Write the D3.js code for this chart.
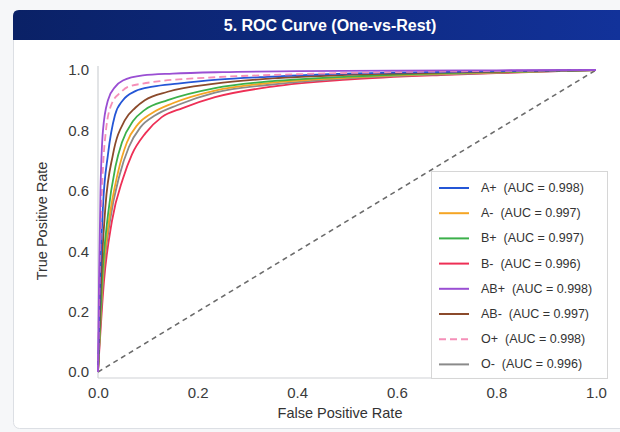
<!DOCTYPE html>
<html>
<head>
<meta charset="utf-8">
<script src="https://cdn.jsdelivr.net/npm/d3@7"></script>
<style>
  body { margin: 0; background: #f6f7f9; font-family: "Liberation Sans", Arial, sans-serif; }
  svg { display: block; }
</style>
</head>
<body>
<div id="chart"></div>
<script>
// Classes, colours and AUC values shown in the legend
var classes = ["A+", "A-", "B+", "B-", "AB+", "AB-", "O+", "O-"];
var aucs = ["0.998", "0.997", "0.997", "0.996", "0.998", "0.997", "0.998", "0.996"];
var colors = ["#2456d6", "#f5a524", "#3bb04a", "#ee2f55", "#9a4fd3", "#8b4a2b", "#f58fb8", "#8a8a8a"];

// ROC points [fpr, tpr], one list per class
var rocAPos = [[0,0],[0.004,0.3],[0.01,0.55],[0.02,0.72],[0.034,0.85],[0.05,0.9],[0.075,0.93],[0.11,0.945],[0.16,0.955],[0.24,0.968],[0.35,0.978],[0.5,0.988],[0.7,0.994],[0.85,0.997],[1,1]];
var rocANeg = [[0,0],[0.009,0.3],[0.022,0.5],[0.04,0.66],[0.058,0.76],[0.08,0.82],[0.108,0.857],[0.15,0.89],[0.235,0.932],[0.35,0.958],[0.5,0.975],[0.7,0.988],[0.85,0.994],[1,1]];
var rocBPos = [[0,0],[0.008,0.3],[0.02,0.52],[0.035,0.68],[0.048,0.76],[0.07,0.83],[0.094,0.868],[0.14,0.9],[0.235,0.94],[0.35,0.963],[0.5,0.978],[0.7,0.99],[0.85,0.995],[1,1]];
var rocBNeg = [[0,0],[0.012,0.3],[0.028,0.5],[0.05,0.64],[0.068,0.72],[0.095,0.79],[0.128,0.844],[0.17,0.874],[0.235,0.91],[0.35,0.945],[0.5,0.968],[0.7,0.984],[0.85,0.992],[1,1]];
var rocABPos = [[0,0],[0.002,0.3],[0.005,0.6],[0.01,0.8],[0.02,0.9],[0.035,0.945],[0.05,0.965],[0.09,0.982],[0.15,0.988],[0.25,0.993],[0.4,0.996],[0.6,0.998],[0.8,0.999],[1,1]];
var rocABNeg = [[0,0],[0.006,0.3],[0.015,0.55],[0.03,0.72],[0.054,0.834],[0.075,0.875],[0.094,0.9],[0.14,0.928],[0.235,0.955],[0.35,0.972],[0.5,0.984],[0.7,0.992],[0.85,0.996],[1,1]];
var rocOPos = [[0,0],[0.003,0.3],[0.008,0.6],[0.016,0.8],[0.028,0.89],[0.045,0.925],[0.06,0.944],[0.09,0.955],[0.13,0.964],[0.235,0.976],[0.4,0.986],[0.6,0.993],[0.8,0.997],[1,1]];
var rocONeg = [[0,0],[0.01,0.3],[0.024,0.5],[0.043,0.65],[0.062,0.745],[0.085,0.81],[0.115,0.85],[0.16,0.884],[0.235,0.925],[0.35,0.952],[0.5,0.972],[0.7,0.986],[0.85,0.993],[1,1]];
var rocs = [rocAPos, rocANeg, rocBPos, rocBNeg, rocABPos, rocABNeg, rocOPos, rocONeg];

var xTicks = [0, 0.2, 0.4, 0.6, 0.8, 1.0];
var yTicks = [0, 0.2, 0.4, 0.6, 0.8, 1.0];

var svgWidth = 620, svgHeight = 432;

var svg = d3.select("#chart").append("svg")
    .attr("width", svgWidth)
    .attr("height", svgHeight);

// Card and header bar
svg.append("rect")
    .attr("x", 13.5).attr("y", 10.5)
    .attr("width", 620).attr("height", 418)
    .attr("rx", 6)
    .attr("fill", "#ffffff")
    .attr("stroke", "#dcdfe4");

var grad = svg.append("defs").append("linearGradient").attr("id", "hdr");
grad.append("stop").attr("offset", "0%").attr("stop-color", "#0a2166");
grad.append("stop").attr("offset", "100%").attr("stop-color", "#12329a");

svg.append("path")
    .attr("d", "M13,40 L13,16 Q13,10 19,10 L620,10 L620,40 Z")
    .attr("fill", "url(#hdr)");

svg.append("text")
    .attr("x", 330).attr("y", 31)
    .attr("text-anchor", "middle")
    .attr("fill", "#ffffff")
    .attr("font-size", 16)
    .attr("font-weight", "bold")
    .text("5. ROC Curve (One-vs-Rest)");

// Scales
var x = d3.scaleLinear().domain([0, 1]).range([98, 596]);
var y = d3.scaleLinear().domain([0, 1]).range([372, 70]);

// Axes (lines only, labels without tick marks)
svg.append("line")
    .attr("x1", 98).attr("x2", 98).attr("y1", 66).attr("y2", 378)
    .attr("stroke", "#cfd2d6").attr("stroke-width", 1.2);
svg.append("line")
    .attr("x1", 98).attr("x2", 604).attr("y1", 378).attr("y2", 378)
    .attr("stroke", "#cfd2d6").attr("stroke-width", 1.2);

var xAxis = svg.append("g")
    .attr("transform", "translate(0,378)")
    .call(d3.axisBottom(x).tickValues(xTicks).tickFormat(d3.format(".1f")).tickSize(0).tickPadding(9));
var yAxis = svg.append("g")
    .attr("transform", "translate(98,0)")
    .call(d3.axisLeft(y).tickValues(yTicks).tickFormat(d3.format(".1f")).tickSize(0).tickPadding(9));

[xAxis, yAxis].forEach(function(a) {
    a.select(".domain").remove();
    a.selectAll("text")
        .attr("font-family", "Liberation Sans, Arial, sans-serif")
        .attr("font-size", 15)
        .attr("fill", "#3a3a3a");
});

svg.append("text")
    .attr("x", 340).attr("y", 418)
    .attr("text-anchor", "middle")
    .attr("font-size", 14.5)
    .attr("fill", "#333")
    .text("False Positive Rate");

svg.append("text")
    .attr("transform", "translate(47,221) rotate(-90)")
    .attr("text-anchor", "middle")
    .attr("font-size", 14.5)
    .attr("fill", "#333")
    .text("True Positive Rate");

// Chance diagonal
svg.append("line")
    .attr("x1", x(0)).attr("y1", y(0))
    .attr("x2", x(1)).attr("y2", y(1))
    .attr("stroke", "#6b6b6b")
    .attr("stroke-width", 1.6)
    .attr("stroke-dasharray", "5,4");

// ROC curves
var line = d3.line()
    .x(function(d) { return x(d[0]); })
    .y(function(d) { return y(d[1]); })
    .curve(d3.curveMonotoneX);

// draw outer curves first so inner ones sit on top
var drawOrder = [3, 7, 1, 2, 5, 0, 6, 4];
drawOrder.forEach(function(i) {
    svg.append("path")
        .datum(rocs[i])
        .attr("d", line)
        .attr("fill", "none")
        .attr("stroke", colors[i])
        .attr("stroke-width", 1.8)
        .attr("stroke-dasharray", classes[i] === "O+" ? "7,4" : null);
});

// Legend
var legend = svg.append("g");
legend.append("rect")
    .attr("x", 431.5).attr("y", 171.5)
    .attr("width", 176).attr("height", 207)
    .attr("fill", "#ffffff")
    .attr("fill-opacity", 0.92)
    .attr("stroke", "#d6d6d6");

classes.forEach(function(c, i) {
    var ly = 188 + i * 25.2;
    legend.append("line")
        .attr("x1", 439).attr("x2", 469)
        .attr("y1", ly).attr("y2", ly)
        .attr("stroke", colors[i])
        .attr("stroke-width", 2)
        .attr("stroke-dasharray", c === "O+" ? "7,4" : null);
    legend.append("text")
        .attr("x", 481).attr("y", ly + 4)
        .attr("font-size", 12.5)
        .attr("fill", "#333")
        .attr("xml:space", "preserve")
        .text(c + "  (AUC = " + aucs[i] + ")");
});
</script>
</body>
</html>
